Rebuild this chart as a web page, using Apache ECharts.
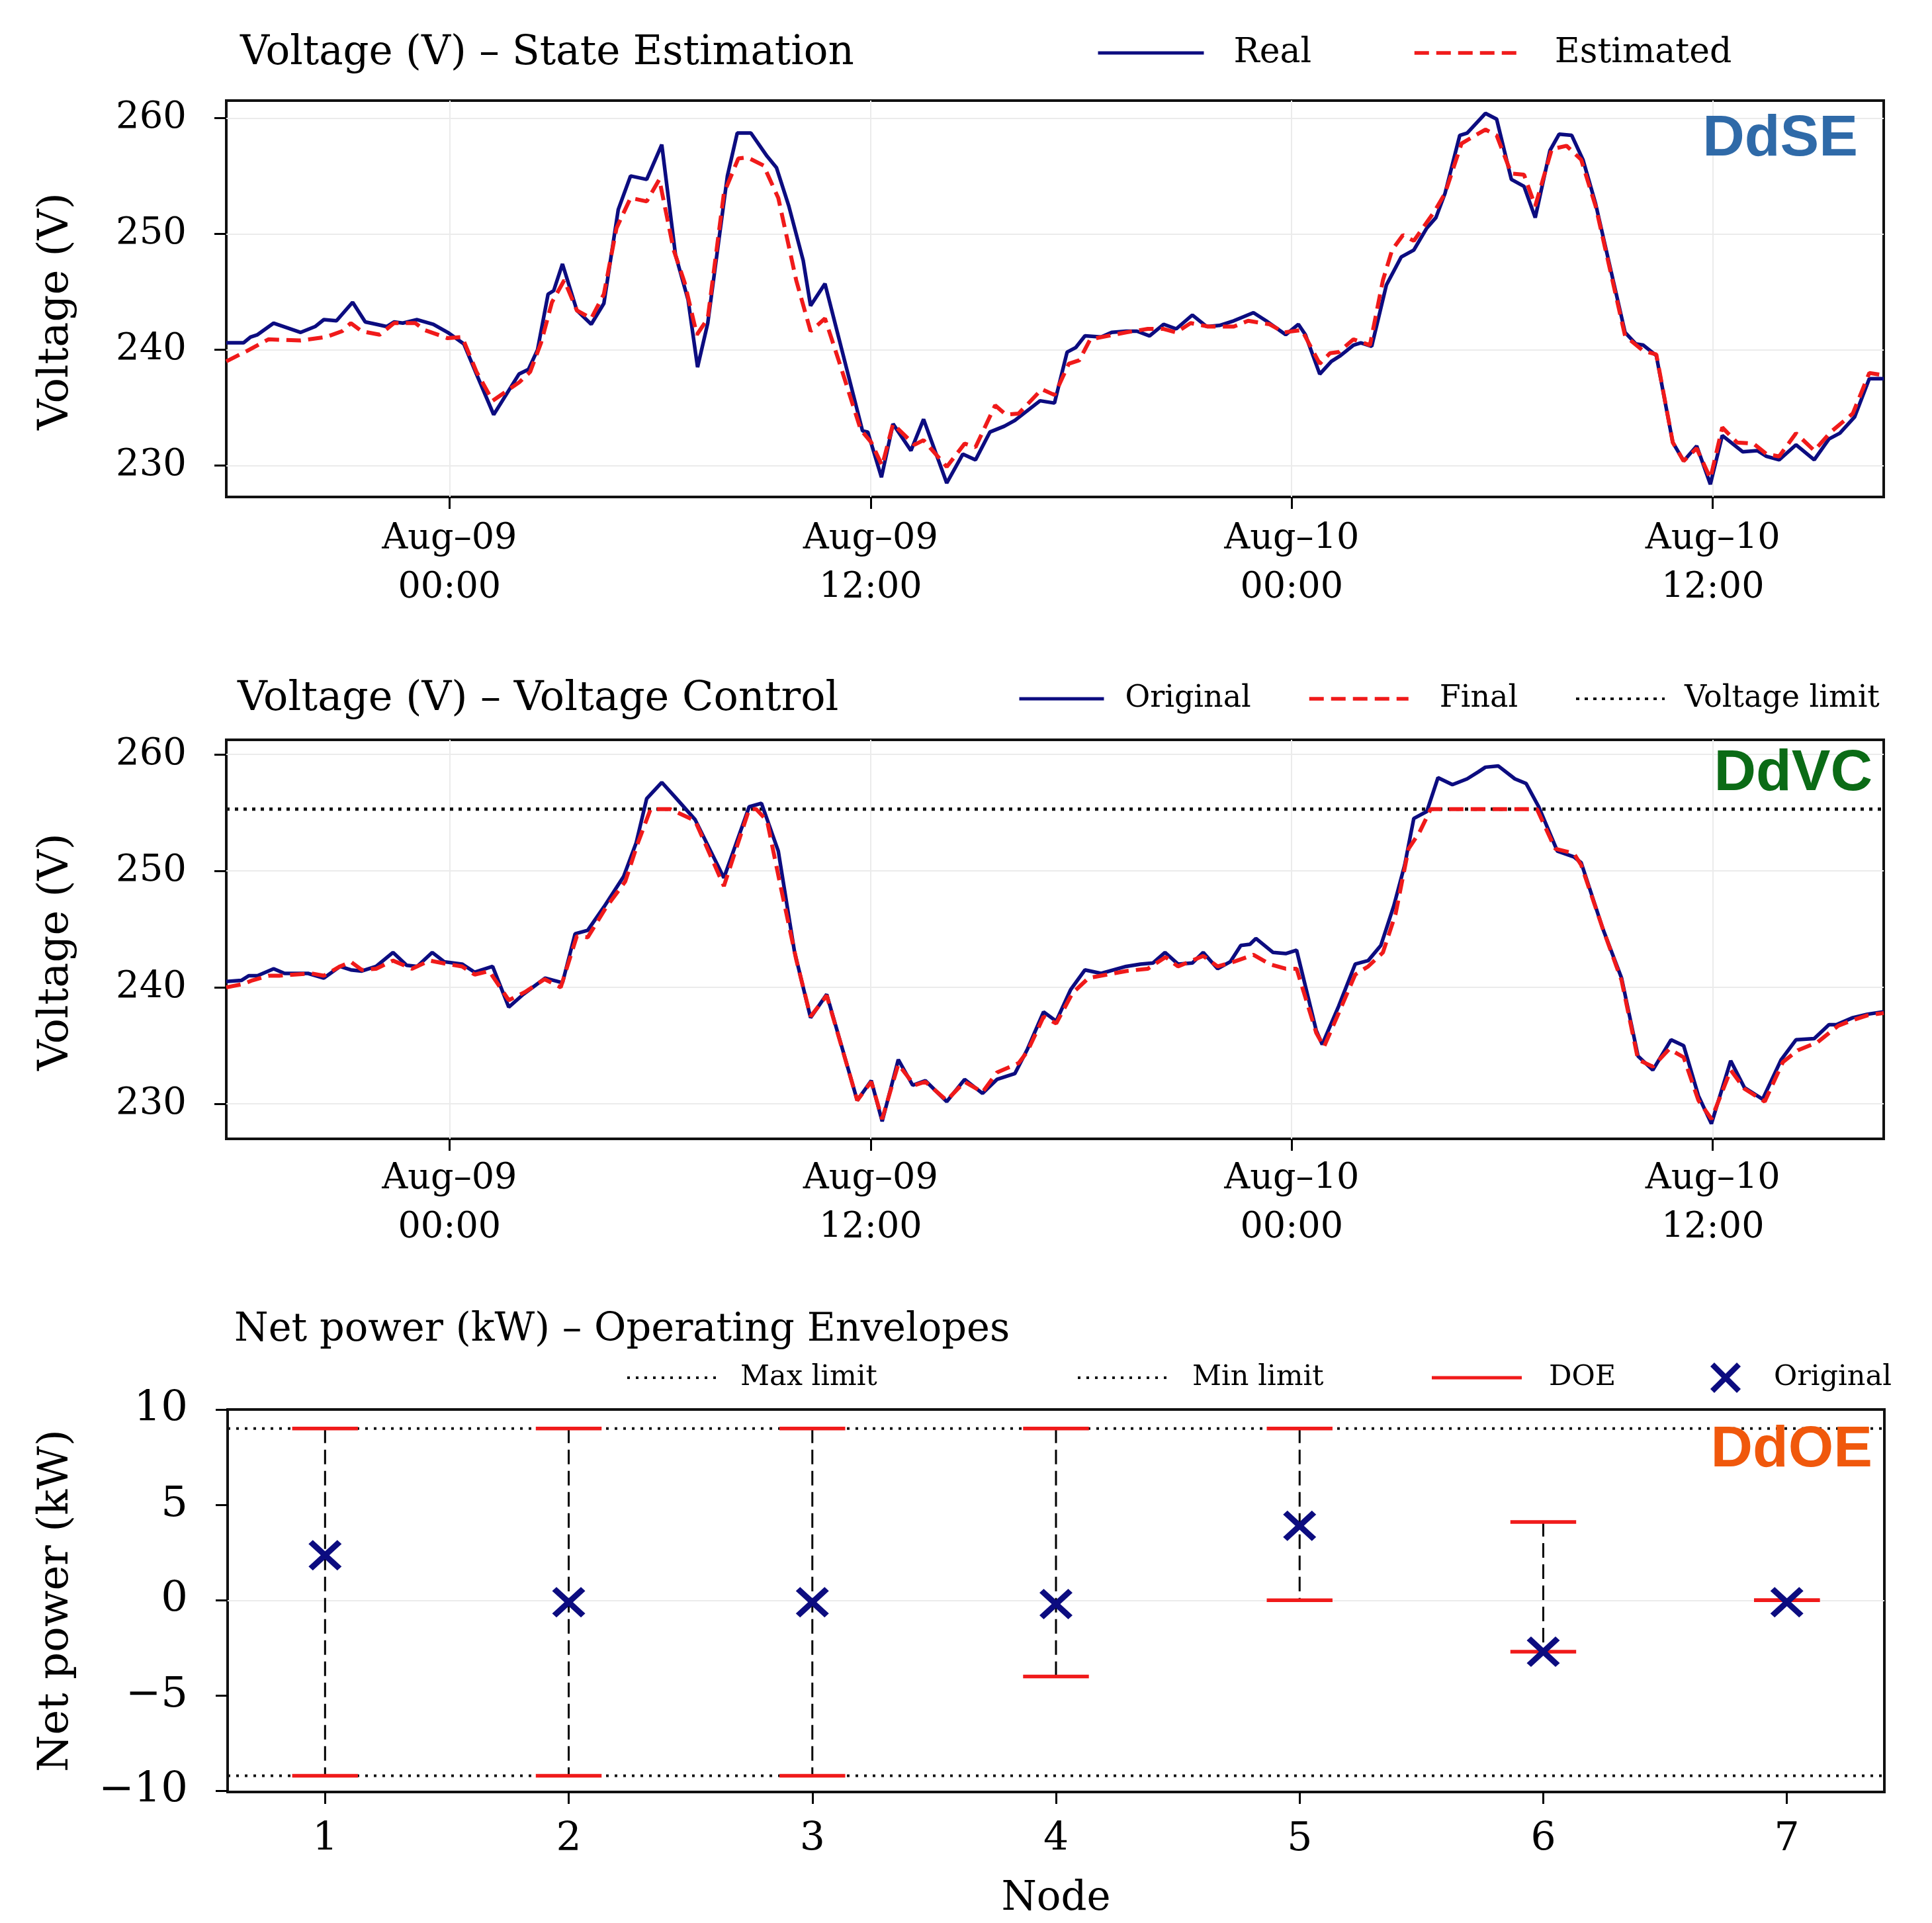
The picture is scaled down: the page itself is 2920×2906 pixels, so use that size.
<!DOCTYPE html>
<html>
<head>
<meta charset="utf-8">
<title>DdSE / DdVC / DdOE</title>
<script src="https://cdn.jsdelivr.net/npm/echarts@6/dist/echarts.min.js"></script>
<style>
  html, body { margin: 0; padding: 0; background: #fff; }
  #chart { width: 2920px; height: 2906px; }
</style>
</head>
<body>
<div id="chart"></div>
<script>
// ---------------- data: [hours from Aug-09 00:00, volts] ----------------
const seReal = [
  [-6.36,240.6],[-5.87,240.6],[-5.67,241.1],[-5.47,241.3],[-5.01,242.3],[-4.24,241.5],[-3.83,242.0],[-3.58,242.6],
  [-3.22,242.5],[-2.76,244.1],[-2.40,242.4],[-2.09,242.2],[-1.79,242.0],[-1.58,242.4],[-1.33,242.3],[-0.92,242.6],
  [-0.46,242.2],[-0.05,241.5],[0.41,240.5],[0.77,237.9],[1.26,234.4],[1.98,237.9],[2.25,238.3],[2.51,240.0],
  [2.81,244.8],[2.97,245.1],[3.22,247.4],[3.63,243.4],[4.04,242.2],[4.40,244.0],[4.81,252.1],[5.16,255.0],
  [5.62,254.7],[6.05,257.7],[6.44,248.2],[6.80,244.3],[7.07,238.5],[7.36,242.3],[7.92,255.0],[8.20,258.7],
  [8.59,258.7],[9.05,256.7],[9.32,255.7],[9.67,252.4],[10.08,247.7],[10.29,243.8],[10.70,245.7],[11.77,233.0],
  [11.92,232.9],[12.31,229.0],[12.64,233.6],[13.15,231.3],[13.51,234.0],[14.17,228.5],[14.63,231.0],[14.99,230.5],
  [15.40,232.9],[15.81,233.4],[16.11,233.9],[16.83,235.6],[17.24,235.4],[17.60,239.8],[17.85,240.2],[18.11,241.2],
  [18.57,241.1],[18.87,241.5],[19.28,241.6],[19.59,241.6],[19.95,241.2],[20.35,242.2],[20.71,241.8],[21.17,243.0],
  [21.58,242.0],[21.94,242.1],[22.35,242.5],[22.91,243.2],[23.27,242.5],[23.83,241.3],[24.19,242.2],[24.39,241.3],
  [24.80,237.9],[25.13,239.0],[25.39,239.5],[25.76,240.4],[25.97,240.6],[26.28,240.3],[26.70,245.6],[27.12,248.0],
  [27.48,248.6],[27.85,250.5],[28.11,251.4],[28.37,253.5],[28.79,258.5],[29.00,258.7],[29.52,260.4],[29.84,259.9],
  [30.26,254.7],[30.62,254.1],[30.94,251.4],[31.36,257.2],[31.62,258.6],[31.98,258.5],[32.30,256.4],[32.66,252.6],
  [33.50,241.5],[33.81,240.5],[34.02,240.4],[34.39,239.5],[34.86,232.0],[35.17,230.4],[35.54,231.7],[35.93,228.4],
  [36.27,232.6],[36.85,231.2],[37.27,231.3],[37.53,230.8],[37.89,230.5],[38.37,231.8],[38.89,230.5],[39.31,232.3],
  [39.62,232.8],[40.04,234.2],[40.46,237.5],[40.87,237.5]
];
const seEstimated = [
  [-6.36,239.0],[-5.77,239.9],[-5.16,240.9],[-4.24,240.8],[-3.52,241.1],[-3.06,241.6],[-2.81,242.3],[-2.50,241.6],
  [-1.99,241.3],[-1.58,242.3],[-0.97,242.3],[-0.71,241.7],[-0.05,241.0],[0.36,241.1],[0.77,238.1],[1.23,235.6],
  [1.99,237.2],[2.30,238.1],[2.61,240.6],[2.92,244.1],[3.27,246.0],[3.63,243.4],[4.04,242.7],[4.40,244.8],
  [4.76,250.5],[5.16,253.1],[5.62,252.8],[5.98,254.7],[6.39,248.6],[6.70,245.8],[7.05,241.3],[7.36,242.7],
  [7.82,253.5],[8.23,256.5],[8.49,256.6],[8.95,255.9],[9.37,253.1],[9.88,246.0],[10.29,241.6],[10.70,242.7],
  [11.10,239.0],[11.72,233.1],[12.02,232.0],[12.33,230.0],[12.64,233.6],[13.25,231.8],[13.51,232.2],[14.17,229.9],
  [14.68,231.9],[14.99,231.6],[15.55,235.2],[15.86,234.4],[16.22,234.5],[16.88,236.6],[17.24,236.1],[17.65,238.8],
  [17.95,239.1],[18.26,240.9],[19.28,241.5],[19.90,241.8],[20.35,241.8],[20.71,241.5],[21.12,242.3],[21.63,242.0],
  [22.35,242.0],[22.76,242.5],[23.37,242.2],[23.78,241.5],[24.29,241.7],[24.80,238.8],[25.09,239.7],[25.34,239.8],
  [25.76,240.9],[26.23,240.4],[26.60,246.0],[26.86,248.6],[27.17,249.9],[27.48,249.4],[28.06,251.9],[28.37,253.5],
  [28.84,257.8],[29.52,259.0],[29.84,258.5],[30.26,255.2],[30.62,255.1],[30.94,252.4],[31.41,257.3],[31.83,257.6],
  [32.25,256.4],[32.66,252.4],[33.50,241.2],[34.02,239.9],[34.39,239.6],[34.86,232.0],[35.17,230.4],[35.54,231.5],
  [35.93,228.9],[36.27,233.3],[36.69,232.0],[37.16,231.9],[37.53,231.0],[37.89,230.8],[38.37,232.8],[38.89,231.3],
  [39.36,232.9],[39.99,234.5],[40.46,238.0],[40.87,237.8]
];
const vcOriginal = [
  [-6.36,240.5],[-5.93,240.6],[-5.72,241.0],[-5.47,241.0],[-5.01,241.6],[-4.70,241.2],[-4.03,241.2],[-3.58,240.8],
  [-3.12,241.8],[-2.81,241.5],[-2.50,241.4],[-2.09,241.8],[-1.61,243.0],[-1.22,241.9],[-0.92,241.8],[-0.49,243.0],
  [-0.15,242.2],[0.36,242.0],[0.72,241.3],[1.23,241.8],[1.69,238.3],[2.10,239.4],[2.73,240.8],[3.22,240.4],
  [3.58,244.6],[3.94,244.9],[4.40,246.9],[4.96,249.5],[5.32,252.4],[5.62,256.2],[6.05,257.6],[6.44,256.3],
  [7.00,254.4],[7.82,249.4],[8.54,255.5],[8.89,255.8],[9.37,251.7],[9.83,243.1],[10.29,237.4],[10.75,239.4],
  [11.62,230.3],[12.02,232.0],[12.33,228.5],[12.79,233.8],[13.20,231.6],[13.56,232.0],[14.17,230.2],[14.68,232.1],
  [15.19,230.9],[15.60,232.1],[16.11,232.6],[16.47,234.7],[16.93,237.9],[17.29,237.1],[17.70,239.8],[18.11,241.5],
  [18.57,241.2],[19.28,241.8],[19.69,242.0],[20.05,242.1],[20.39,243.0],[20.76,242.0],[21.17,242.1],[21.48,243.0],
  [21.89,241.6],[22.25,242.2],[22.55,243.6],[22.81,243.7],[22.98,244.2],[23.47,243.0],[23.83,242.9],[24.14,243.2],
  [24.70,236.3],[24.87,235.1],[25.34,238.4],[25.81,242.0],[26.18,242.3],[26.54,243.6],[26.91,247.0],[27.22,250.5],
  [27.48,254.5],[27.85,255.1],[28.17,258.0],[28.58,257.4],[29.00,257.9],[29.32,258.5],[29.52,258.9],[29.89,259.0],
  [30.36,257.9],[30.68,257.5],[31.04,255.5],[31.57,251.7],[32.04,251.2],[32.25,250.7],[32.87,245.0],[33.40,240.8],
  [33.87,234.1],[34.29,232.9],[34.81,235.5],[35.17,235.0],[35.59,230.7],[35.96,228.3],[36.51,233.7],[36.90,231.4],
  [37.42,230.4],[37.95,233.8],[38.37,235.5],[38.89,235.6],[39.31,236.8],[39.52,236.8],[39.99,237.4],[40.41,237.7],
  [40.87,237.9]
];
const vcFinal = [
  [-6.36,240.0],[-5.87,240.3],[-5.62,240.6],[-5.16,241.0],[-4.85,241.0],[-3.93,241.2],[-3.58,241.0],[-3.12,241.8],
  [-2.81,242.2],[-2.50,241.5],[-2.09,241.6],[-1.61,242.3],[-1.07,241.6],[-0.56,242.3],[-0.05,242.0],[0.36,241.8],
  [0.72,241.1],[1.13,241.4],[1.69,238.9],[2.15,239.6],[2.71,240.7],[3.17,240.0],[3.63,244.4],[3.94,244.3],
  [4.45,246.8],[5.01,249.1],[5.37,252.4],[5.73,255.3],[6.29,255.3],[7.00,254.3],[7.82,248.7],[8.54,255.3],
  [8.74,255.3],[9.05,254.3],[9.42,248.9],[9.88,242.4],[10.29,237.5],[10.75,239.3],[11.62,230.3],[12.02,231.9],
  [12.33,228.7],[12.79,233.4],[13.25,231.6],[13.56,231.9],[14.17,230.3],[14.68,231.9],[15.19,231.0],[15.60,232.7],
  [16.22,233.5],[16.47,234.5],[16.93,237.5],[17.29,236.9],[17.75,239.5],[18.21,240.8],[19.28,241.4],[19.90,241.6],
  [20.41,242.6],[20.76,241.8],[21.48,242.7],[21.89,241.8],[22.35,242.2],[22.91,242.8],[23.37,242.0],[23.83,241.6],
  [24.14,241.6],[24.70,236.1],[24.92,234.9],[25.34,237.8],[25.81,241.1],[26.18,241.8],[26.60,243.0],[26.96,246.3],
  [27.33,251.9],[27.64,253.3],[27.96,255.3],[30.99,255.3],[31.51,251.9],[32.04,251.5],[32.25,250.5],[32.87,245.0],
  [33.40,240.6],[33.87,233.8],[34.29,233.2],[34.76,234.7],[35.17,234.0],[35.59,230.3],[35.96,228.7],[36.51,232.9],
  [36.90,231.3],[37.48,230.2],[38.00,233.6],[38.42,234.6],[38.99,235.3],[39.57,236.7],[39.99,237.2],[40.41,237.6],
  [40.87,237.8]
];
const voltageLimit = 255.3;

const nodes = [1, 2, 3, 4, 5, 6, 7];
const netOriginal = [2.36, -0.1, -0.1, -0.2, 3.9, -2.7, -0.1];
const doeUpper = [9.0, 9.0, 9.0, 9.0, 9.0, 4.1, 0];
const doeLower = [-9.2, -9.2, -9.2, -4.0, 0, -2.7, 0];
const maxLimit = 9.0;
const minLimit = -9.2;

const timeTicks = [0, 12, 24, 36];
const voltTicks = [230, 240, 250, 260];
const powerTicks = [-10, -5, 0, 5, 10];

// ---------------- style ----------------
const SERIF = 'DejaVu Serif';
const NAVY = '#0c0c80';
const RED = '#f01a1a';
const GRID_LINE = '#ebebeb';
const T_MIN = -6.36, T_MAX = 40.87;
const N_MIN = 0.6, N_MAX = 7.4;
const CAP_HALF = 0.135;
const X_PATH = 'path://M0,1.3L1.3,0L5,3.7L8.7,0L10,1.3L6.3,5L10,8.7L8.7,10L5,6.3L1.3,10L0,8.7L3.7,5Z';

function timeLabel(h) {
  const day = 9 + Math.floor(h / 24);
  const hh = ((h % 24) + 24) % 24;
  return 'Aug–' + String(day).padStart(2, '0') + '\n' + String(hh).padStart(2, '0') + ':00';
}
function minusSign(v) {
  return v < 0 ? '−' + Math.abs(v) : String(v);
}

const tickStyle = { color: '#000', width: 3 };
const noLine = { show: false, onZero: false };

function timeAxis(gridIndex, margin) {
  return {
    type: 'value', gridIndex, min: T_MIN, max: T_MAX,
    axisLine: noLine,
    axisTick: { show: true, length: 18, lineStyle: tickStyle, customValues: timeTicks },
    axisLabel: {
      customValues: timeTicks, formatter: timeLabel, margin,
      fontFamily: SERIF, fontSize: 54, lineHeight: 74, color: '#000'
    },
    splitLine: { show: true, lineStyle: { color: GRID_LINE, width: 2 } }
  };
}
function voltAxis(gridIndex, min, max) {
  return {
    type: 'value', gridIndex, min, max, splitNumber: 3,
    name: 'Voltage (V)', nameLocation: 'middle', nameGap: 225,
    nameTextStyle: { fontFamily: SERIF, fontSize: 64, color: '#000', padding: [0, 38, 0, 0] },
    axisLine: noLine,
    axisTick: { show: true, length: 18, lineStyle: tickStyle, customValues: voltTicks },
    axisLabel: { customValues: voltTicks, margin: 60, fontFamily: SERIF, fontSize: 56, color: '#000' },
    splitLine: { show: true, lineStyle: { color: GRID_LINE, width: 2 } }
  };
}

function renderDoe(params, api) {
  const n = api.value(0), lo = api.value(1), hi = api.value(2);
  const top = api.coord([n, hi]);
  const bot = api.coord([n, lo]);
  const half = api.size([CAP_HALF, 0])[0];
  const children = [];
  if (hi > lo) {
    children.push({
      type: 'line', z2: 1,
      shape: { x1: top[0], y1: top[1], x2: bot[0], y2: bot[1] },
      style: { stroke: '#000', lineWidth: 3, lineDash: [22, 10] }
    });
  }
  [top, bot].forEach(p => children.push({
    type: 'line', z2: 2,
    shape: { x1: p[0] - half, y1: p[1], x2: p[0] + half, y2: p[1] },
    style: { stroke: RED, lineWidth: 5.5 }
  }));
  return { type: 'group', children };
}

function legendItem(name, left, centerY, fontSize, w, h, pad, lineWidth, extra) {
  const lh = Math.round(fontSize * 1.35);
  return Object.assign({
    data: [name], left, top: centerY - lh / 2, padding: 0, itemGap: 0,
    itemWidth: w, itemHeight: h, selectedMode: false,
    lineStyle: { width: lineWidth },
    textStyle: { fontFamily: SERIF, fontSize, color: '#000', lineHeight: lh, padding: [0, 0, 0, pad] }
  }, extra || {});
}

function titleItem(text, left, baseline, fontSize) {
  return {
    text, left, top: baseline - 21 - 35, padding: 0,
    textStyle: { fontFamily: SERIF, fontSize, fontWeight: 'normal', color: '#000', lineHeight: 70 }
  };
}

const chart = echarts.init(document.getElementById('chart'), null, { renderer: 'canvas' });

const option = {
  animation: false,
  backgroundColor: '#fff',
  textStyle: { fontFamily: SERIF },
  title: [
    titleItem('Voltage (V) – State Estimation', 363, 102, 61),
    titleItem('Voltage (V) – Voltage Control', 359, 1078, 62),
    titleItem('Net power (kW) – Operating Envelopes', 354, 2032, 59)
  ],
  legend: [
    legendItem('Real', 1657, 80, 52, 160, 2, 40, 5),
    legendItem('Estimated', 2135, 80, 52, 165, 2, 42, 5.5),
    legendItem('Original', 1538, 1056, 46, 128, 2, 27, 5),
    legendItem('Final', 1976, 1056, 46, 150, 2, 42, 5.5),
    legendItem('Voltage limit', 2380, 1056, 46, 134, 2, 25, 4),
    legendItem('Max limit', 946, 2082, 43, 134, 2, 32, 4),
    legendItem('Min limit', 1627, 2082, 43, 134, 2, 34, 4),
    legendItem('DOE', 2164, 2082, 43, 136, 5, 36, 5, { icon: 'rect' }),
    legendItem('Original (node)', 2585, 2082, 43, 50, 46, 43, 5, { formatter: 'Original' })
  ],
  grid: [
    { left: 342, top: 152, width: 2505, height: 599, show: true, borderColor: '#111', borderWidth: 4, backgroundColor: 'transparent' },
    { left: 342, top: 1118, width: 2505, height: 603, show: true, borderColor: '#111', borderWidth: 4, backgroundColor: 'transparent' },
    { left: 344, top: 2130, width: 2504, height: 585, show: true, borderColor: '#111', borderWidth: 4, backgroundColor: 'transparent' }
  ],
  xAxis: [
    timeAxis(0, 27),
    timeAxis(1, 24),
    {
      type: 'value', gridIndex: 2, min: N_MIN, max: N_MAX,
      name: 'Node', nameLocation: 'middle', nameGap: 127,
      nameTextStyle: { fontFamily: SERIF, fontSize: 61, color: '#000', lineHeight: 70 },
      axisLine: noLine,
      axisTick: { show: true, length: 18, lineStyle: tickStyle, customValues: nodes },
      axisLabel: { customValues: nodes, margin: 37, fontFamily: SERIF, fontSize: 60, lineHeight: 70, color: '#000' },
      splitLine: { show: false }
    }
  ],
  yAxis: [
    voltAxis(0, 227.3, 261.5),
    voltAxis(1, 227.0, 261.25),
    {
      type: 'value', gridIndex: 2, min: -10.05, max: 10,
      name: 'Net power (kW)', nameLocation: 'middle', nameGap: 227,
      nameTextStyle: { fontFamily: SERIF, fontSize: 64, color: '#000' },
      axisLine: noLine,
      axisTick: { show: true, length: 18, lineStyle: tickStyle, customValues: powerTicks },
      axisLabel: { customValues: powerTicks, formatter: minusSign, margin: 60, fontFamily: SERIF, fontSize: 64, color: '#000' },
      splitLine: { show: false }
    }
  ],
  series: [
    // ---- DdSE ----
    { name: 'Real', type: 'line', xAxisIndex: 0, yAxisIndex: 0, data: seReal, symbol: 'none',
      lineStyle: { color: NAVY, width: 5.5 }, itemStyle: { color: NAVY }, z: 3 },
    { name: 'Estimated', type: 'line', xAxisIndex: 0, yAxisIndex: 0, data: seEstimated, symbol: 'none',
      lineStyle: { color: RED, width: 6, type: [22, 11] }, itemStyle: { color: RED }, z: 4 },
    // ---- DdVC ----
    { name: 'Voltage limit', type: 'line', xAxisIndex: 1, yAxisIndex: 1,
      data: [[T_MIN, voltageLimit], [T_MAX, voltageLimit]], symbol: 'none',
      lineStyle: { color: '#111', width: 5, type: [5, 8] }, itemStyle: { color: '#111' }, z: 2 },
    { name: 'Original', type: 'line', xAxisIndex: 1, yAxisIndex: 1, data: vcOriginal, symbol: 'none',
      lineStyle: { color: NAVY, width: 5.5 }, itemStyle: { color: NAVY }, z: 3 },
    { name: 'Final', type: 'line', xAxisIndex: 1, yAxisIndex: 1, data: vcFinal, symbol: 'none',
      lineStyle: { color: RED, width: 6, type: [22, 11] }, itemStyle: { color: RED }, z: 4 },
    // ---- DdOE ----
    { name: 'Max limit', type: 'line', xAxisIndex: 2, yAxisIndex: 2,
      data: [[N_MIN, maxLimit], [N_MAX, maxLimit]], symbol: 'none',
      lineStyle: { color: '#111', width: 4, type: [4, 9] }, itemStyle: { color: '#111' }, z: 2,
      markLine: { silent: true, symbol: 'none', label: { show: false }, z: 1,
        lineStyle: { color: GRID_LINE, width: 2, type: 'solid' }, data: [{ yAxis: 0 }] } },
    { name: 'Min limit', type: 'line', xAxisIndex: 2, yAxisIndex: 2,
      data: [[N_MIN, minLimit], [N_MAX, minLimit]], symbol: 'none',
      lineStyle: { color: '#111', width: 4, type: [4, 9] }, itemStyle: { color: '#111' }, z: 2 },
    { name: 'DOE', type: 'custom', xAxisIndex: 2, yAxisIndex: 2,
      data: nodes.map((n, i) => [n, doeLower[i], doeUpper[i]]),
      renderItem: renderDoe, itemStyle: { color: RED }, z: 3 },
    { name: 'Original (node)', type: 'scatter', xAxisIndex: 2, yAxisIndex: 2,
      data: nodes.map((n, i) => [n, netOriginal[i]]),
      symbol: X_PATH, symbolSize: [50, 46], itemStyle: { color: NAVY, opacity: 1 }, z: 5 }
  ],
  graphic: [
    { type: 'text', x: 2808, y: 211, z: 10,
      style: { text: 'DdSE', fill: '#2f6aa8', font: 'bold 88px "Liberation Sans"', align: 'right', verticalAlign: 'middle' } },
    { type: 'text', x: 2830, y: 1170, z: 10,
      style: { text: 'DdVC', fill: '#0b6b16', font: 'bold 88px "Liberation Sans"', align: 'right', verticalAlign: 'middle' } },
    { type: 'text', x: 2830, y: 2192, z: 10,
      style: { text: 'DdOE', fill: '#f0580c', font: 'bold 88px "Liberation Sans"', align: 'right', verticalAlign: 'middle' } }
  ]
};

chart.setOption(option);
</script>
</body>
</html>
